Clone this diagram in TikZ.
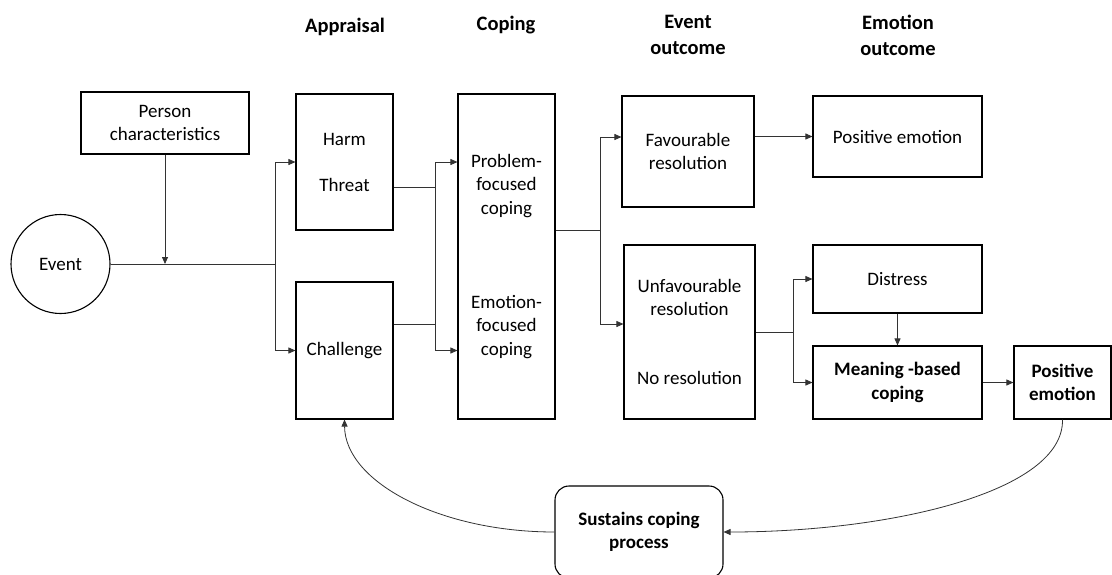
\documentclass[tikz,border=0pt]{standalone}
\usepackage{fontspec}
\setmainfont{Carlito}
\usetikzlibrary{arrows.meta}
\begin{document}
\begin{tikzpicture}[x=1pt,y=-1pt,
  every node/.style={font=\fontsize{19}{23.5}\selectfont, align=center, inner sep=0pt},
  box/.style={draw, line width=1.1pt, minimum width=#1},
  hdr/.style={font=\fontsize{20.5}{26}\selectfont\bfseries},
  conn/.style={draw=black!80, line width=0.8pt},
  arr/.style={conn, -{Triangle[length=7pt,width=6pt]}}]
\useasboundingbox (0,0) rectangle (1112,574);

% column headings
\node[hdr] (hA) at (345,27) {Appraisal};
\node[hdr] (hC) at (506,25) {Coping};
\node[hdr] (hE) at (688,35) {Event\\outcome};
\node[hdr] (hM) at (898,35) {Emotion\\outcome};

% boxes
\node[box=168pt, minimum height=62pt] (person) at (165,123) {Person\\characteristics};
\node[draw, circle, line width=1.1pt, minimum size=99pt] (event) at (60.5,264) {Event};
\node[box=97pt, minimum height=136pt] (harm) at (344.5,162) {Harm\\[22.5pt]Threat};
\node[box=97pt, minimum height=137pt] (chal) at (344.5,350.5) {Challenge};
\node[box=97pt, minimum height=325pt] (coping) at (506.5,256.5)
  {Problem-\\focused\\coping\\[70.5pt]Emotion-\\focused\\coping};
\node[box=132pt, minimum height=111pt] (fav) at (688,151.5) {Favourable\\resolution};
\node[box=131pt, minimum height=174pt] (unfav) at (689.5,332)
  {Unfavourable\\resolution\\[45.5pt]No resolution};
\node[box=169pt, minimum height=81pt] (pe1) at (897.5,136.5) {Positive emotion};
\node[box=169pt, minimum height=68pt] (distress) at (897.5,279) {Distress};
\node[box=169pt, minimum height=73pt, font=\fontsize{19}{23.5}\selectfont\bfseries] (meaning) at (897.5,382.5) {Meaning -based\\coping};
\node[box=97pt, minimum height=73pt, font=\fontsize{19}{23.5}\selectfont\bfseries] (pe2) at (1062.5,382.5) {Positive\\emotion};
\node[box=168pt, minimum height=92pt, rounded corners=14pt, font=\fontsize{19}{23.5}\selectfont\bfseries] (sustain) at (639,532) {Sustains coping\\process};

% junction points
\coordinate (pj) at (165,264);
\coordinate (ja) at (275,264);
\coordinate (jb1) at (435,187);
\coordinate (jb2) at (435,324);
\coordinate (jc) at (600,230);
\coordinate (yf) at (0,137);
\coordinate (yu) at (0,324);
\coordinate (jd) at (793,332);

% event to appraisal
\draw[arr] (person.south) -- (pj);
\draw[conn] (event.east) -- (ja);
\draw[arr] (ja) |- (harm.west);
\draw[arr] (ja) |- (chal.west);

% appraisal to coping
\draw[conn] (harm.east |- jb1) -- (jb1);
\draw[conn] (chal.east |- jb2) -- (jb2);
\draw[conn] (jb1) -- (jb2);
\draw[arr] (jb1) |- (coping.west |- harm.west);
\draw[arr] (jb2) |- (coping.west |- chal.west);

% coping to event outcome
\draw[conn] (coping.east |- jc) -- (jc);
\draw[arr] (jc) |- (fav.west |- yf);
\draw[arr] (jc) |- (unfav.west |- yu);

% event outcome to emotion outcome
\draw[arr] (fav.east |- pe1.west) -- (pe1.west);
\draw[conn] (unfav.east) -- (jd);
\draw[arr] (jd) |- (distress.west);
\draw[arr] (jd) |- (meaning.west);
\draw[arr] (distress.south) -- (meaning.north);
\draw[arr] (meaning.east) -- (pe2.west);

% feedback loop
\draw[arr] (pe2.south) .. controls (1064,492) and (890,532) .. (sustain.east);
\draw[arr] (sustain.west) .. controls (440,532) and (345,482) .. (chal.south);
\end{tikzpicture}
\end{document}
